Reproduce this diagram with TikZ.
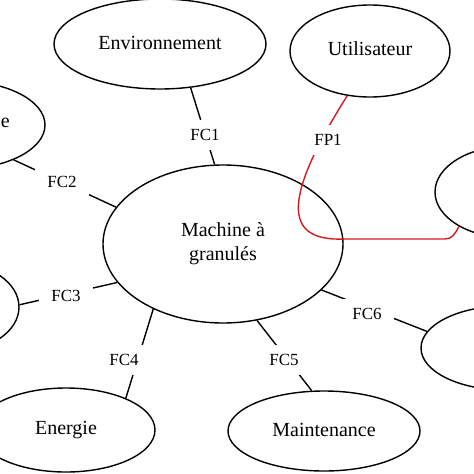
\documentclass[tikz,border=0pt]{standalone}
\usepackage{fontspec}
\setmainfont{Liberation Serif}
\usetikzlibrary{shapes.geometric}
\definecolor{fpred}{RGB}{215,25,30}

\begin{document}
\begin{tikzpicture}[
    x=1pt, y=-1pt,
    bloc/.style={ellipse, draw, line width=1.4pt, inner sep=0pt, align=center, font=\fontsize{20}{24}\selectfont},
    fc/.style={fill=white, inner xsep=12pt, inner ysep=9pt, font=\fontsize{17}{20}\selectfont},
    lien/.style={line width=1.4pt},
    lienfp/.style={line width=1.4pt, draw=fpred}  % fonction principale
]
  \useasboundingbox (0,0) rectangle (474,474);
  \clip (0,0) rectangle (474,474);

  % milieux extérieurs
  \node[bloc, minimum width=212pt, minimum height=90pt] (env) at (160,44) {\raisebox{2pt}{Environnement}};
  \node[bloc, minimum width=160pt, minimum height=92pt] (user) at (370,51) {\raisebox{5pt}{Utilisateur}};
  \node[bloc, minimum width=170pt, minimum height=88pt] (lt) at (-40,125) {};
  \node[anchor=base east, inner sep=0pt, font=\fontsize{20}{24}\selectfont] (ltnom) at (10,127) {e};
  \node[bloc, minimum width=128pt, minimum height=88pt] (lm) at (-45,307) {};
  \node[bloc, minimum width=150pt, minimum height=92pt] (rt) at (510,192) {};
  \node[bloc, minimum width=168pt, minimum height=84pt] (rb) at (505,348) {};
  \node[bloc, minimum width=178pt, minimum height=84pt] (energie) at (66,430) {Energie};
  \node[bloc, minimum width=192pt, minimum height=80pt] (maint) at (324,431) {\raisebox{2pt}{Maintenance}};

  % le produit
  \node[bloc, minimum width=240pt, minimum height=158pt] (machine) at (223,244) {Machine à\\granulés};

  % fonctions de contrainte
  \draw[lien] (env.305) -- (machine.96);
  \draw[lien] (lt.327) -- (machine.161);
  \draw[lien] (lm.2) -- (machine.200);
  \draw[lien] (machine.223) -- (energie.28);
  \draw[lien] (machine.294) -- (maint.107);
  \draw[lien] (machine.335) -- (rb.168);

  % fonction principale
  \draw[lienfp] (user.243) .. controls (285,195) and (280,242) .. (345,239)
    -- (445,239) .. controls (452,239) and (455,234) .. (rt.214);

  % étiquettes
  \node[fc] (fc1) at (205,135) {FC1};
  \node[fc] (fc2) at (62,182) {FC2};
  \node[fc] (fc3) at (66,296) {FC3};
  \node[fc] (fc4) at (124,360) {FC4};
  \node[fc] (fc5) at (284,360) {FC5};
  \node[fc] (fc6) at (367,314) {FC6};
  \node[fc] (fp1) at (328,140) {FP1};
\end{tikzpicture}
\end{document}
